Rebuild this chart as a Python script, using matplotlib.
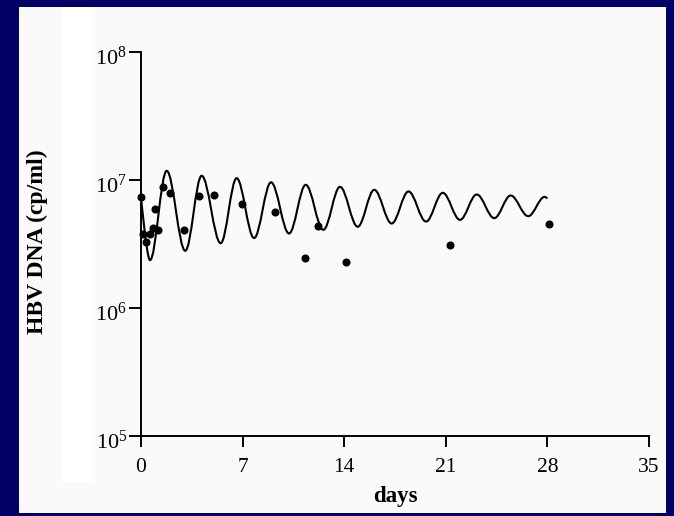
import matplotlib
matplotlib.use("Agg")
import matplotlib.pyplot as plt
from matplotlib.path import Path
from matplotlib.patches import PathPatch, Rectangle
from matplotlib.transforms import ScaledTranslation

# ---- data ----
# model curve: start point, alternating troughs / peaks, end point
curve_days = [0.0, 0.62, 1.77, 3.05, 4.18, 5.49, 6.59, 7.79, 8.96, 10.20, 11.35,
              12.56, 13.71, 14.93, 16.07, 17.27, 18.43, 19.64, 20.79, 21.98,
              23.13, 24.34, 25.47, 26.68, 27.81, 28.0]
curve_values = [7.36e6, 2.36e6, 1.175e7, 2.79e6, 1.075e7, 3.20e6, 1.03e7, 3.51e6,
                9.56e6, 3.81e6, 9.14e6, 4.07e6, 8.81e6, 4.30e6, 8.35e6, 4.56e6,
                8.11e6, 4.72e6, 7.91e6, 4.87e6, 7.68e6, 5.02e6, 7.54e6, 5.20e6,
                7.36e6, 7.14e6]
# measured HBV DNA
obs_days = [0.0, 0.16, 0.34, 0.62, 0.81, 0.99, 1.17, 1.50, 2.02, 2.96, 4.0, 5.03,
            6.96, 9.21, 11.30, 12.17, 14.10, 21.29, 28.13]
obs_values = [7.28e6, 3.80e6, 3.24e6, 3.80e6, 4.24e6, 5.91e6, 4.05e6, 8.71e6,
              7.82e6, 4.07e6, 7.54e6, 7.59e6, 6.53e6, 5.56e6, 2.47e6, 4.35e6,
              2.30e6, 3.09e6, 4.51e6]
x_ticks = [0, 7, 14, 21, 28, 35]
x_tick_labels = ["0", "7", "14", "21", "28", "35"]
y_ticks = [1e5, 1e6, 1e7, 1e8]
y_tick_labels = [r"$10^{5}$", r"$10^{6}$", r"$10^{7}$", r"$10^{8}$"]
x_label = "days"
y_label = "HBV DNA (cp/ml)"

plt.rcParams["font.family"] = ["Liberation Serif", "DejaVu Serif"]
plt.rcParams["mathtext.fontset"] = "custom"
plt.rcParams["mathtext.rm"] = "Liberation Serif"
plt.rcParams["mathtext.it"] = "Liberation Serif:italic"
plt.rcParams["mathtext.bf"] = "Liberation Serif:bold"

W, H = 674, 516
fig = plt.figure(figsize=(W / 100, H / 100), dpi=100)
fig.patch.set_facecolor("#000066")

# white slide panel and lighter strip
fig.patches.append(Rectangle((19 / W, (H - 513) / H), (666 - 19) / W, (513 - 7) / H,
                             transform=fig.transFigure, facecolor="#fafafa",
                             edgecolor="none", zorder=-2))
fig.patches.append(Rectangle((62 / W, (H - 482) / H), (93 - 62) / W, (482 - 7) / H,
                             transform=fig.transFigure, facecolor="#ffffff",
                             edgecolor="none", zorder=-1))

left, right = 141 / W, 649 / W
bottom, top = (H - 436) / H, (H - 51.7) / H
ax = fig.add_axes([left, bottom, right - left, top - bottom])
ax.set_facecolor("none")
ax.set_yscale("log")
ax.set_xlim(0, 35)
ax.set_ylim(1e5, 1e8)

for s in ("top", "right"):
    ax.spines[s].set_visible(False)
for s in ("left", "bottom"):
    ax.spines[s].set_linewidth(1.4)

ax.set_xticks(x_ticks)
ax.set_xticklabels(x_tick_labels)
ax.set_yticks(y_ticks)
ax.set_yticklabels(y_tick_labels)
ax.yaxis.set_minor_locator(matplotlib.ticker.NullLocator())
ax.tick_params(axis="x", direction="out", length=8, width=1.4, labelsize=15.5, pad=8)
ax.tick_params(axis="y", direction="out", length=8.5, width=1.4, labelsize=16, pad=1.5)
shift = ScaledTranslation(0, -4 / 100, fig.dpi_scale_trans)
for lab in ax.get_yticklabels():
    lab.set_transform(lab.get_transform() + shift)

# smooth model curve through its extrema (horizontal tangents at extrema)
k = 0.36
verts = [(curve_days[0], curve_values[0])]
codes = [Path.MOVETO]
n = len(curve_days)
for i in range(n - 1):
    x0, y0 = curve_days[i], curve_values[i]
    x1, y1 = curve_days[i + 1], curve_values[i + 1]
    dx = x1 - x0
    c1 = (x0, y0) if i == 0 else (x0 + k * dx, y0)
    c2 = (x1, y1) if i == n - 2 else (x1 - k * dx, y1)
    verts += [c1, c2, (x1, y1)]
    codes += [Path.CURVE4] * 3
ax.add_patch(PathPatch(Path(verts, codes), facecolor="none", edgecolor="black",
                       linewidth=1.5, zorder=2))

ax.plot(obs_days, obs_values, "o", color="black", markersize=4.8, zorder=3,
        clip_on=False)

ax.set_xlabel(x_label, fontsize=16.5, fontweight="bold", labelpad=6)
ax.set_ylabel(y_label, fontsize=17, fontweight="bold")
ax.yaxis.set_label_coords(-0.183, 0.505)

fig.savefig("out.png", dpi=100, facecolor=fig.get_facecolor())
